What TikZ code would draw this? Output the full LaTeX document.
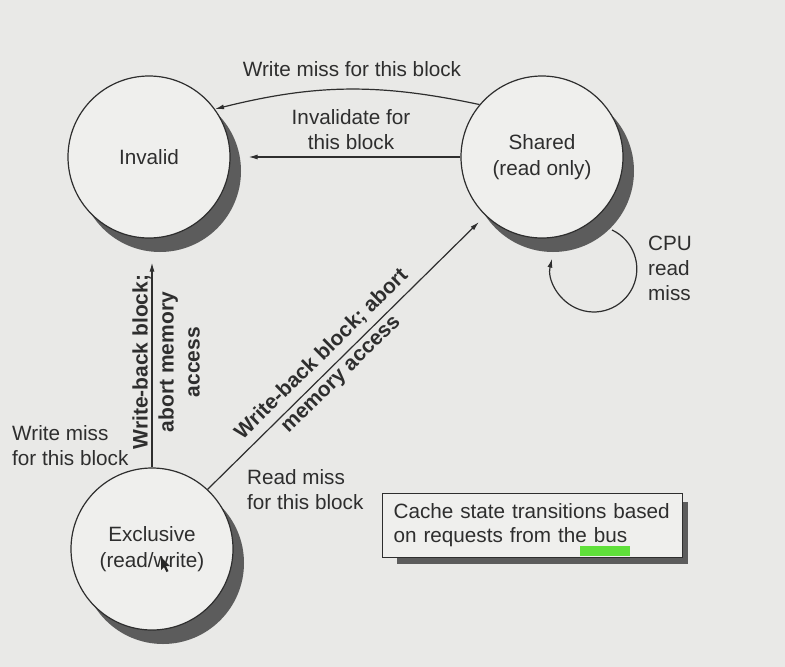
\documentclass[tikz,border=0pt]{standalone}
\usepackage{fontspec}
\setmainfont{Liberation Sans}
\usetikzlibrary{arrows.meta,shadows,calc}
\definecolor{bg}{HTML}{E9E9E7}
\definecolor{cfill}{HTML}{EFEFED}
\definecolor{shadowgrey}{HTML}{5C5C5C}
\definecolor{ink}{HTML}{2E2E2E}
\definecolor{hlgreen}{HTML}{5FE03A}
\begin{document}
\begin{tikzpicture}[x=1pt,y=-1pt,
  every node/.style={text=ink},
  lbl/.style={font=\fontsize{20.7}{25}\selectfont, inner sep=0pt, align=center},
  blbl/.style={font=\fontsize{21}{26}\selectfont\bfseries, inner sep=0pt, align=center},
  state/.style={circle, draw=ink, line width=1.2pt, fill=cfill, minimum size=162pt,
    inner sep=0pt, align=center, font=\fontsize{20.7}{26.5}\selectfont,
    drop shadow={shadow xshift=11pt, shadow yshift=-14pt, fill=shadowgrey, opacity=1}},
  arr/.style={draw=ink, line width=1.2pt, -{Latex[length=9pt,width=5pt]}},
]
\fill[bg] (0,0) rectangle (785,667);
\useasboundingbox (0,0) rectangle (785,667);

\node[state] (invalid) at (149,157) {Invalid};
\node[state] (shared) at (542,157) {Shared\\(read only)};
\node[state] (excl) at (152,549) {Exclusive\\(read/write)};

% Shared -> Invalid (write miss)
\draw[arr] (shared.140) to[bend right=13] (invalid.36);
\node[lbl] (wm) at (352,69) {Write miss for this block};

% Shared -> Invalid (invalidate)
\draw[arr, shorten >=18pt] (shared.west) -- (invalid.east);
\node[lbl] (inv) at (351,129.5) {Invalidate for\\this block};

% Exclusive -> Invalid
\draw[arr, shorten >=24pt] (excl.north) -- (excl.north |- invalid.south);
\node[blbl, rotate=90] (wb1) at (166,362) {Write-back block;\\abort memory\\access};
\node[lbl, align=left, anchor=west] (wmb) at (12,446) {Write miss\\for this block};

% Exclusive -> Shared
\draw[arr, shorten >=9pt] (excl.47) -- (shared.226);
\node[blbl, rotate=44.5, font=\fontsize{21}{27.5}\selectfont\bfseries] (wb3) at (331.5,364.5) {Write-back block; abort\\memory access};
\node[lbl, align=left, anchor=west] (rmb) at (247,489.5) {Read miss\\for this block};

% self loop on Shared
\coordinate (loopstart) at (612,230);
\draw[arr] (loopstart) arc[start angle=-65, end angle=194, radius=43];
\node[lbl, align=left, anchor=west] (cpu) at (648,268) {CPU\\read\\miss};

% note box
\fill[shadowgrey] (397,502) rectangle (688,564);
\node[draw=ink, line width=1.2pt, fill=cfill, anchor=north west, text width=278pt,
  inner xsep=11pt, inner ysep=0pt, minimum height=64pt, align=left,
  font=\fontsize{20.7}{24}\selectfont] (note) at (382,493)
  {Cache state transitions based\\on requests from the bus};
\fill[hlgreen] (580,546) rectangle (630,556);

% mouse pointer
\fill[black!85] (161,557) -- ++(0,13) -- ++(3,-3) -- ++(2.5,5) -- ++(2,-1) -- ++(-2.5,-5) -- ++(4,0) -- cycle;
\end{tikzpicture}
\end{document}
